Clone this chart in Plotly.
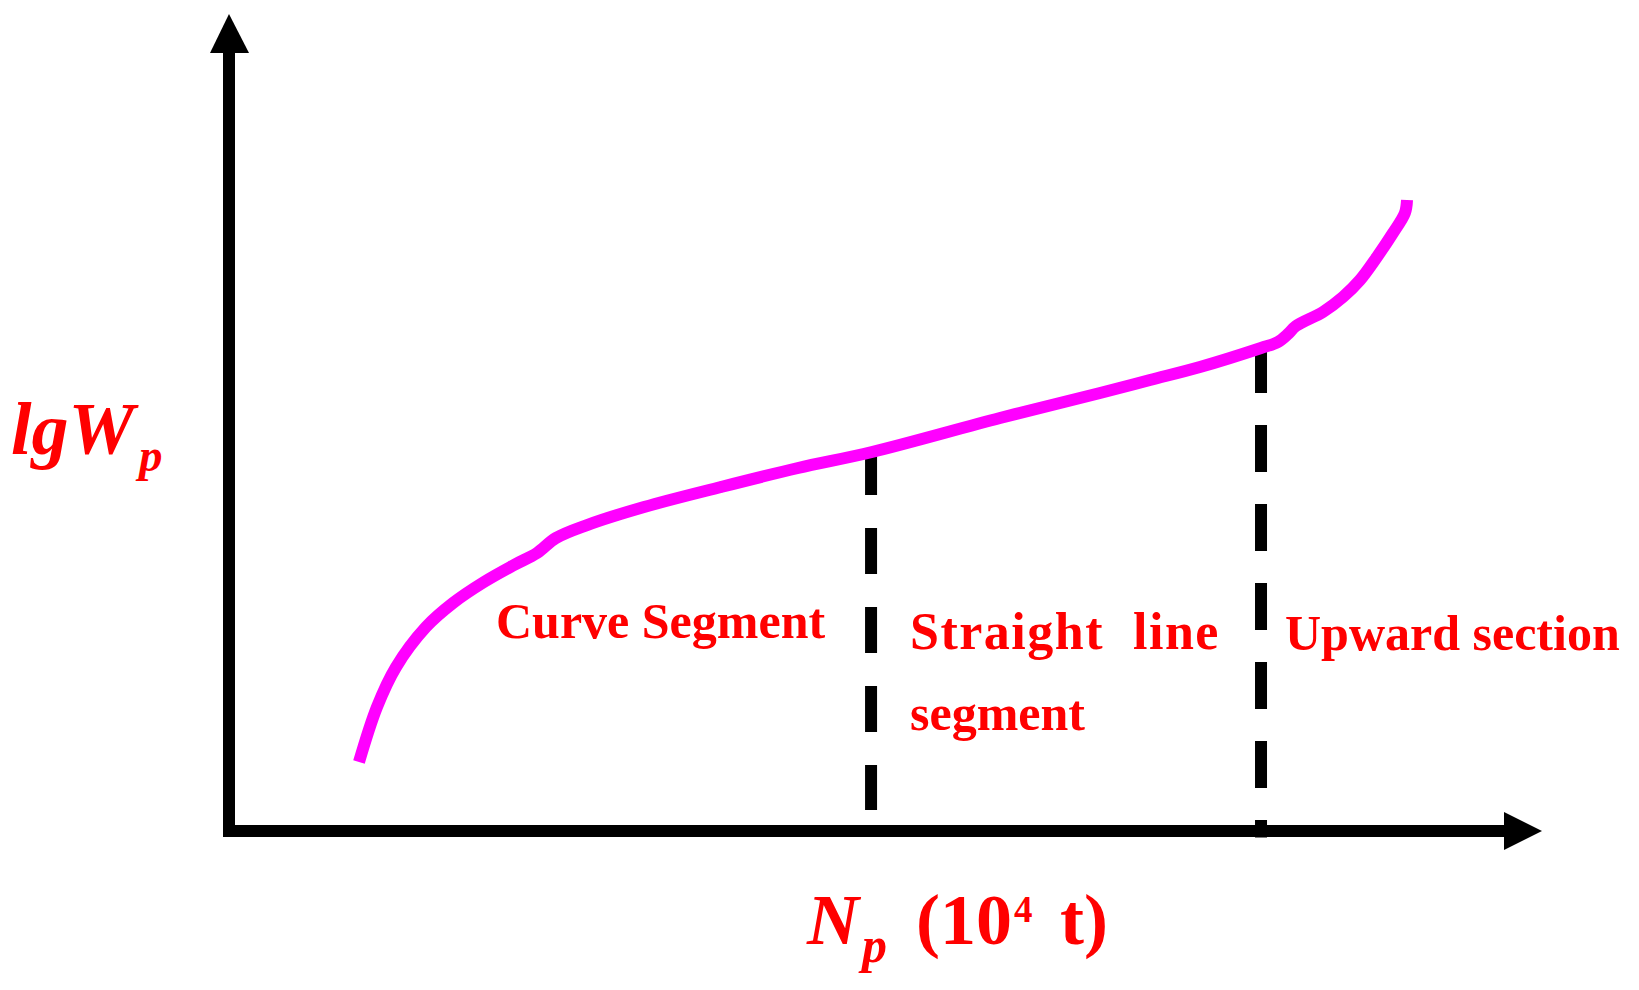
import plotly.graph_objects as go

# ---------------- data (schematic units: axis origin = 0, arrow tips = 100) ----------------
Np = [9.90, 11.27, 12.72, 15.00, 17.06, 19.42, 21.71, 23.46, 24.90, 27.27, 31.61, 37.47,
      43.34, 48.97, 58.72, 66.34, 70.14, 73.95, 78.60, 79.89, 80.65, 81.26, 83.32, 84.84,
      86.14, 87.43, 88.65, 89.56, 89.72]
lgWp = [8.45, 15.18, 20.07, 24.97, 27.91, 30.48, 32.56, 34.03, 35.86, 37.45, 39.66, 42.11,
        44.43, 46.39, 50.55, 53.61, 55.20, 56.79, 59.12, 59.85, 60.83, 61.81, 63.53, 65.36,
        67.44, 70.26, 73.19, 75.64, 77.23]

boundary_x = [48.9, 78.6]          # Np where segments change
boundary_top = [46.76, 59.36]      # lgWp at top of dashed separators
boundary_bottom = [2.57, -0.8]

segment_labels = ["Curve Segment", "Straight  line", "segment", "Upward section"]

# ---------------- geometry helpers (reference pixel -> schematic units) ----------------
W, H = 1639, 990
PAGE_MARGIN = 8                    # default body margin of the html page
FW, FH = W - 2 * PAGE_MARGIN, H - 2 * PAGE_MARGIN
OX, OY = 229, 831                  # origin pixel
KX, KY = 13.13, 8.17               # pixels per unit

def ux(px):
    return (px - OX) / KX

def uy(py):
    return (OY - py) / KY

RED = "#FF0000"
MAG = "#FF00FF"
SERIF = "Liberation Serif, Times New Roman, serif"

fig = go.Figure()

# separators
for i, (bx, bt, bb) in enumerate(zip(boundary_x, boundary_top, boundary_bottom)):
    fig.add_trace(go.Scatter(
        x=[bx, bx], y=[bt, bb], mode="lines",
        line=dict(color="black", width=12, dash="46px,33px" if i == 0 else "47px,32px"),
        hoverinfo="skip", showlegend=False))

# curve
fig.add_trace(go.Scatter(
    x=Np, y=lgWp, mode="lines",
    line=dict(color=MAG, width=12, shape="spline", smoothing=1.0),
    hoverinfo="skip", showlegend=False))

shapes = [
    dict(type="line", x0=0, x1=0, y0=uy(837), y1=uy(50), line=dict(color="black", width=12)),
    dict(type="line", x0=ux(223), x1=ux(1508), y0=0, y1=0, line=dict(color="black", width=12)),
    dict(type="path",
         path=f"M {ux(229)} {uy(14)} L {ux(210)} {uy(53)} L {ux(249)} {uy(53)} Z",
         fillcolor="black", line=dict(color="black", width=0)),
    dict(type="path",
         path=f"M {ux(1542)} {uy(831)} L {ux(1504)} {uy(812)} L {ux(1504)} {uy(850)} Z",
         fillcolor="black", line=dict(color="black", width=0)),
]

def label(text, px, py_mid, size):
    return dict(x=ux(px), y=uy(py_mid), xref="x", yref="y", text=text, showarrow=False,
                xanchor="left", yanchor="middle", borderpad=0,
                font=dict(family=SERIF, size=size, color=RED))

annotations = [
    label(f"<b>{segment_labels[0]}</b>", 495, 621, 50),
    label("<b><span style='letter-spacing:1.5px'>"
          + segment_labels[1].replace("  ", "&nbsp; ") + "</span></b>", 909, 631, 52),
    label(f"<b>{segment_labels[2]}</b>", 909, 713, 50),
    label(f"<b>{segment_labels[3]}</b>", 1284, 633, 50),
    # y title: lgW with subscript p
    label("<b><i>lgW</i></b>", 10, 429, 74),
    label("<b><i>p</i></b>", 134, 455, 47),
    # x title: N with subscript p, then (10^4 t)
    label("<b><i>N</i></b>", 805, 920, 72),
    label("<b><i>p</i></b>", 857, 945, 50),
    label("<b>(10</b>", 915, 920, 72),
    label("<b>4</b>", 1013, 909, 37),
    label("<b>t)</b>", 1059, 920, 72),
]

fig.update_layout(
    width=FW, height=FH,
    margin=dict(l=0, r=0, t=0, b=0),
    paper_bgcolor="white", plot_bgcolor="white",
    xaxis=dict(visible=False, range=[ux(PAGE_MARGIN), ux(PAGE_MARGIN + FW)], fixedrange=True),
    yaxis=dict(visible=False, range=[uy(PAGE_MARGIN + FH), uy(PAGE_MARGIN)], fixedrange=True),
    shapes=shapes, annotations=annotations,
    showlegend=False,
)

fig.write_html("out.html")
